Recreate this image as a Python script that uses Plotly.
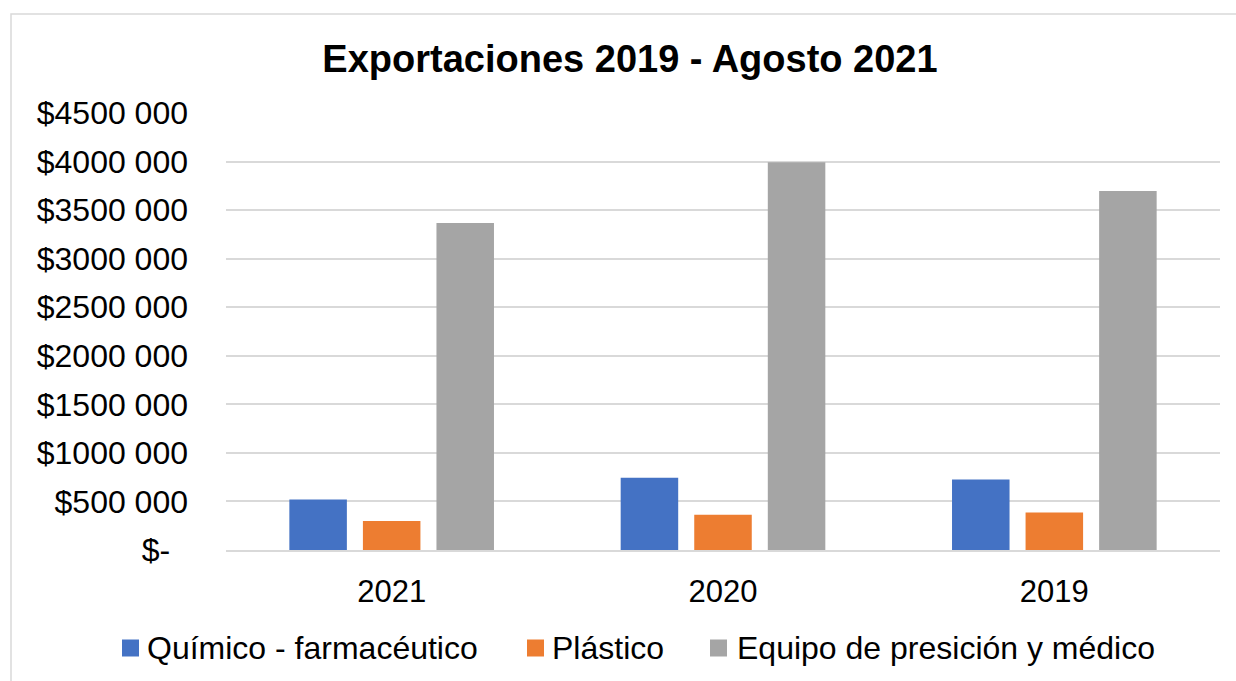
import plotly.graph_objects as go

# Export values (USD) by year and sector
years = ["2021", "2020", "2019"]
quimico = [521000, 745000, 727000]
plastico = [298000, 364000, 385000]
equipo = [3368000, 3992000, 3698000]

series_names = ["Químico - farmacéutico", "Plástico", "Equipo de presición y médico"]
series_colors = ["#4472C4", "#ED7D31", "#A5A5A5"]

tick_vals = [0, 500000, 1000000, 1500000, 2000000, 2500000, 3000000, 3500000, 4000000, 4500000]
tick_text = ["$-\u00a0\u00a0", "$500 000", "$1000 000", "$1500 000", "$2000 000",
             "$2500 000", "$3000 000", "$3500 000", "$4000 000", "$4500 000"]

W, H = 1236, 681
ML, MR, MT, MB = 226, 16, 113, 131
PW, PH = W - ML - MR, H - MT - MB

FONT = "Liberation Sans, Arial, sans-serif"

fig = go.Figure()
for name, vals, color in zip(series_names, [quimico, plastico, equipo], series_colors):
    fig.add_trace(go.Bar(x=years, y=vals, name=name, marker=dict(color=color, line=dict(width=0)),
                         showlegend=False))


def px_x(p):
    return (p - ML) / PW


def px_y(p):
    return (H - MB - p) / PH


shapes = [
    # outer chart border (continues past the right/bottom edges)
    dict(type="rect", xref="paper", yref="paper", x0=px_x(11), x1=px_x(1300),
         y0=px_y(760), y1=px_y(14), line=dict(color="#D9D9D9", width=1.5), layer="below"),
]
annotations = []

# legend: colored squares with labels
legend_sq_x = [122, 527, 710]
legend_txt_x = [145, 550, 735]
legend_y = 648
for sx, tx, name, color in zip(legend_sq_x, legend_txt_x, series_names, series_colors):
    shapes.append(dict(type="rect", xref="paper", yref="paper",
                       x0=px_x(sx), x1=px_x(sx + 17), y0=px_y(legend_y + 8.5), y1=px_y(legend_y - 8.5),
                       fillcolor=color, line=dict(width=0)))
    annotations.append(dict(text=name, xref="paper", yref="paper", x=px_x(tx), y=px_y(legend_y),
                            xanchor="left", yanchor="middle", showarrow=False,
                            font=dict(family=FONT, size=32, color="#000000")))

fig.update_layout(
    width=W, height=H,
    margin=dict(l=ML, r=MR, t=MT, b=MB),
    paper_bgcolor="white", plot_bgcolor="white",
    barmode="group", bargap=0.334, bargroupgap=0.218,
    title=dict(text="<b>Exportaciones 2019 - Agosto 2021</b>", xref="container", yref="container",
               x=630 / W, y=1 - 59 / H, xanchor="center", yanchor="middle",
               font=dict(family=FONT, size=38, color="#000000")),
    shapes=shapes,
    annotations=annotations,
    xaxis=dict(showgrid=False, showline=True, linecolor="#D9D9D9", linewidth=1.5,
               ticks="", tickfont=dict(family=FONT, size=31, color="#000000"),
               ticklabelstandoff=13, fixedrange=True),
    yaxis=dict(range=[0, 4500000], tickvals=tick_vals, ticktext=tick_text,
               showgrid=True, gridcolor="#D9D9D9", gridwidth=1.5, zeroline=False,
               showline=False, ticks="",
               tickfont=dict(family=FONT, size=32, color="#000000"),
               ticklabelstandoff=37, fixedrange=True),
    showlegend=False,
)

fig.write_html("out.html")
